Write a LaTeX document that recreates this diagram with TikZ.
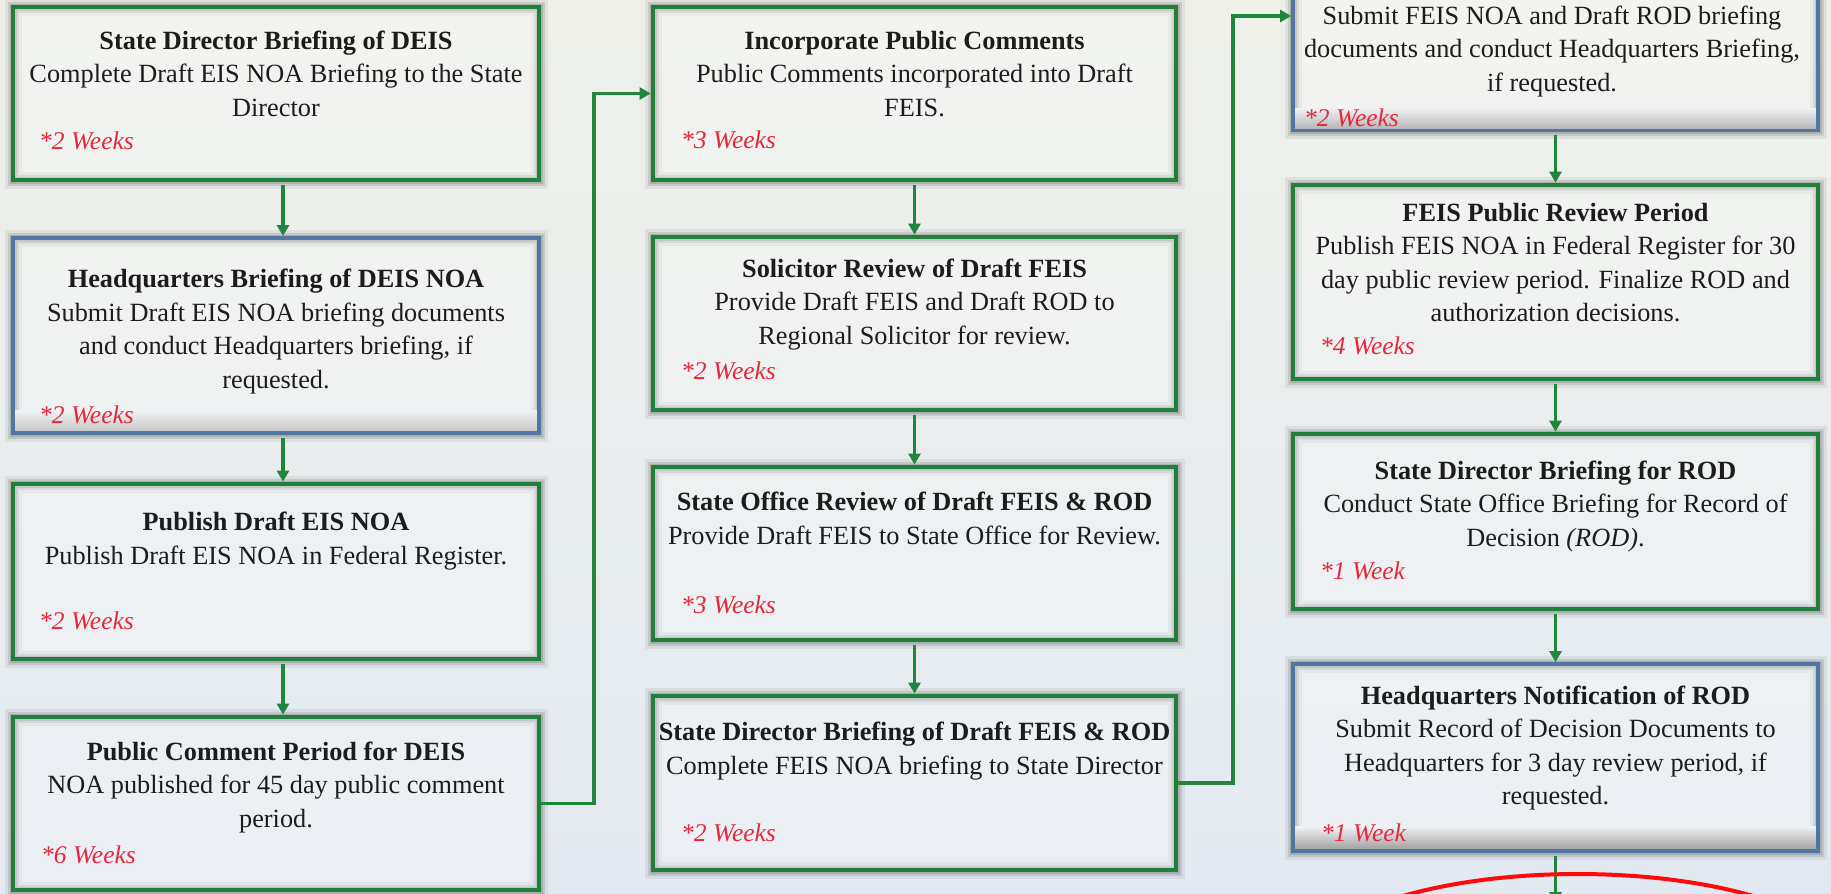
\documentclass[tikz,border=0pt]{standalone}
\usepackage{fontspec}
\setmainfont{Liberation Serif}
\usetikzlibrary{arrows.meta,calc}
\definecolor{gborder}{HTML}{207F3A}
\definecolor{bborder}{HTML}{5176A3}
\definecolor{acol}{HTML}{22853D}
\definecolor{wcol}{HTML}{E5283A}
\definecolor{tcol}{HTML}{1C1C1C}
\definecolor{bgtop}{HTML}{EEF0E9}
\definecolor{bgmid}{HTML}{ECEEF0}
\definecolor{bgbot}{HTML}{E3E9F1}
\definecolor{bandtop}{HTML}{EEF0F3}
\definecolor{ellcol}{HTML}{FF0A0A}
\begin{document}
\begin{tikzpicture}[x=1pt,y=-1pt,
  boxc/.style={rectangle, inner sep=0pt, fill=white, fill opacity=0.3,
    preaction={draw=black, draw opacity=0.06, line width=17pt},
    preaction={draw=black, draw opacity=0.10, line width=11pt},
    preaction={draw=black, draw opacity=0.12, line width=7pt}},
  gbox/.style={boxc, draw=gborder, line width=4.8pt},
  bbox/.style={boxc, draw=bborder, line width=3.8pt},
  txt/.style={align=center, inner sep=0pt, text=tcol, anchor=base,
    font=\fontsize{26.3}{33.5}\selectfont},
  wk/.style={inner sep=0pt, anchor=base west, text=wcol,
    font=\fontsize{25.5}{30}\selectfont\itshape},
  arr/.style={draw=acol, line width=3.1pt, -{Triangle[length=11pt,width=12pt]}, shorten <=3pt},
  conn/.style={draw=acol, line width=3.1pt, -{Triangle[length=11pt,width=12pt]}},
  band/.style={top color=bandtop, bottom color=#1}
]
\useasboundingbox (0,0) rectangle (1831,894);
\clip (0,0) rectangle (1831,894);
\shade[top color=bgtop, middle color=bgmid, bottom color=bgbot] (0,0) rectangle (1831,894);

% column 1
\node[gbox, minimum width=526pt, minimum height=173pt] (b1) at (276,93.5) {};
\node[bbox, minimum width=526pt, minimum height=195pt] (b2) at (276,335.5) {};
\node[gbox, minimum width=526pt, minimum height=175pt] (b3) at (276,571.5) {};
\node[gbox, minimum width=526pt, minimum height=173pt] (b4) at (276,803.5) {};
% column 2
\node[gbox, minimum width=523pt, minimum height=173pt] (b5) at (914.5,93.5) {};
\node[gbox, minimum width=523pt, minimum height=173pt] (b6) at (914.5,323.5) {};
\node[gbox, minimum width=523pt, minimum height=173pt] (b7) at (914.5,553.5) {};
\node[gbox, minimum width=523pt, minimum height=174pt] (b8) at (914.5,783) {};
% column 3
\node[bbox, minimum width=525pt, minimum height=181pt] (b9) at (1555.5,40) {};
\node[gbox, minimum width=525pt, minimum height=194pt] (b10) at (1555.5,282) {};
\node[gbox, minimum width=525pt, minimum height=175pt] (b11) at (1555.5,521.5) {};
\node[bbox, minimum width=525pt, minimum height=187pt] (b12) at (1555.5,757.5) {};

% bottom bands of blue boxes
\shade[band=black!22] ($(b2.south west)+(4,-24)$) rectangle ($(b2.south east)+(-4,-4)$);
\shade[band=black!28] ($(b9.south west)+(4,-24)$) rectangle ($(b9.south east)+(-4,-4)$);
\shade[band=black!36] ($(b12.south west)+(4,-26)$) rectangle ($(b12.south east)+(-4,-4)$);

% texts (anchor = baseline of the last line)
\node[txt] (t1) at (276,116) {\textbf{State Director Briefing of DEIS}\\Complete Draft EIS NOA Briefing to the State\\Director};
\node[wk] (w1) at (39,149) {*2 Weeks};
\node[txt] (t2) at (276,388) {\textbf{Headquarters Briefing of DEIS NOA}\\Submit Draft EIS NOA briefing documents\\and conduct Headquarters briefing, if\\requested.};
\node[wk] (w2) at (39,423) {*2 Weeks};
\node[txt] (t3) at (276,564) {\textbf{Publish Draft EIS NOA}\\Publish Draft EIS NOA in Federal Register.};
\node[wk] (w3) at (39,629) {*2 Weeks};
\node[txt] (t4) at (276,827) {\textbf{Public Comment Period for DEIS}\\NOA published for 45 day public comment\\period.};
\node[wk] (w4) at (41,863) {*6 Weeks};

\node[txt] (t5) at (914.5,116) {\textbf{Incorporate Public Comments}\\Public Comments incorporated into Draft\\FEIS.};
\node[wk] (w5) at (681,148) {*3 Weeks};
\node[txt] (t6) at (914.5,344) {\textbf{Solicitor Review of Draft FEIS}\\Provide Draft FEIS and Draft ROD to\\Regional Solicitor for review.};
\node[wk] (w6) at (681,379) {*2 Weeks};
\node[txt] (t7) at (914.5,544) {\textbf{State Office Review of Draft FEIS \& ROD}\\Provide Draft FEIS to State Office for Review.};
\node[wk] (w7) at (681,613) {*3 Weeks};
\node[txt] (t8) at (914.5,774) {\textbf{State Director Briefing of Draft FEIS \& ROD}\\Complete FEIS NOA briefing to State Director};
\node[wk] (w8) at (681,841) {*2 Weeks};

\node[txt] (t9) at (1552,91) {Submit FEIS NOA and Draft ROD briefing\\documents and conduct Headquarters Briefing,\\if requested.};
\node[wk] (w9) at (1304,126) {*2 Weeks};
\node[txt] (t10) at (1555.5,321.5) {\textbf{FEIS Public Review Period}\\Publish FEIS NOA in Federal Register for 30\\day public review period. Finalize ROD and\\authorization decisions.};
\node[wk] (w10) at (1320,354) {*4 Weeks};
\node[txt] (t11) at (1555.5,546) {\textbf{State Director Briefing for ROD}\\Conduct State Office Briefing for Record of\\Decision \textit{(ROD)}.};
\node[wk] (w11) at (1320,579) {*1 Week};
\node[txt] (t12) at (1555.5,804.5) {\textbf{Headquarters Notification of ROD}\\Submit Record of Decision Documents to\\Headquarters for 3 day review period, if\\requested.};
\node[wk] (w12) at (1321,841) {*1 Week};

% vertical arrows
\draw[arr] ([xshift=7pt]b1.south) -- ([xshift=7pt]b2.north);
\draw[arr] ([xshift=7pt]b2.south) -- ([xshift=7pt]b3.north);
\draw[arr] ([xshift=7pt]b3.south) -- ([xshift=7pt]b4.north);
\draw[arr] (b5.south) -- (b6.north);
\draw[arr] (b6.south) -- (b7.north);
\draw[arr] (b7.south) -- (b8.north);
\draw[arr] (b9.south) -- (b10.north);
\draw[arr] (b10.south) -- (b11.north);
\draw[arr] (b11.south) -- (b12.north);
\coordinate (k3) at (1555.5,903);
\draw[arr] (b12.south) -- (k3);

% column connectors
\coordinate (k1) at (594,93.5);
\draw[conn] (b4.east) -| (k1) -- (k1 -| b5.west);
\coordinate (k2) at (1233,16);
\draw[conn] (b8.east) -| (k2) -- (k2 -| b9.west);

% red annotation ellipse
\draw[ellcol, line width=4pt] (1578,974) ellipse [x radius=280pt, y radius=100pt];
\end{tikzpicture}
\end{document}
